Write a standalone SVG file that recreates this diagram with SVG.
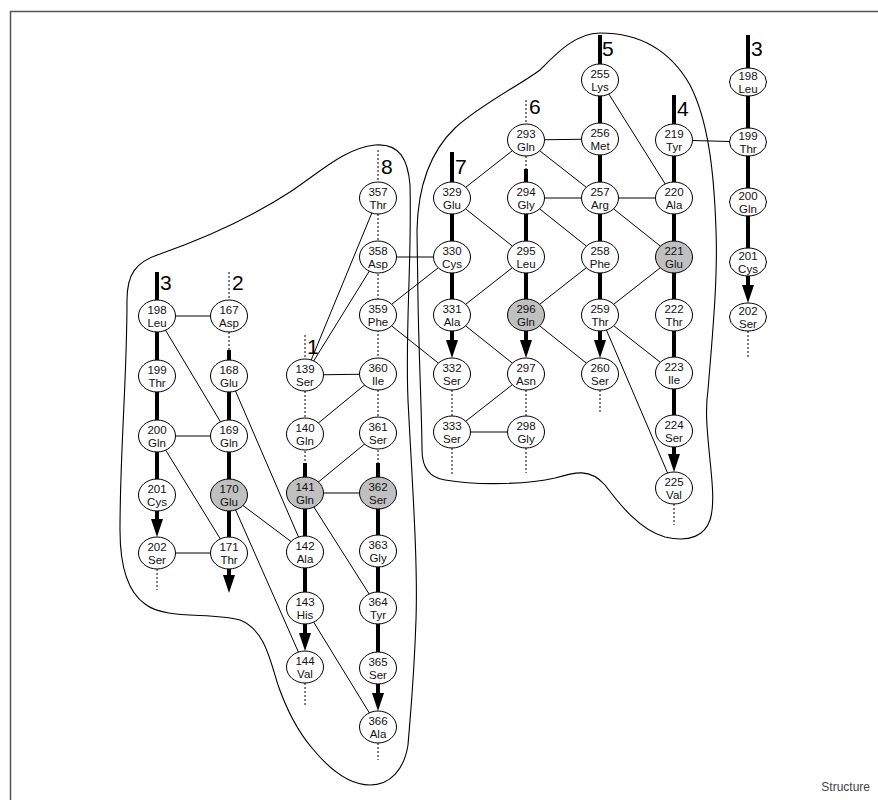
<svg xmlns="http://www.w3.org/2000/svg" width="878" height="800" viewBox="0 0 878 800">
<defs>
<style>
.frame{fill:none;stroke:#555;stroke-width:1.5}
.blob{fill:none;stroke:#000;stroke-width:1.1}
.thin{stroke:#000;stroke-width:1;fill:none}
.thick{stroke:#000;stroke-width:4;fill:none}
.dot{stroke:#000;stroke-width:1;stroke-dasharray:2,2;fill:none}
.arr{stroke:#000;stroke-width:4;fill:none;marker-end:url(#ah)}
.node ellipse{fill:#fff;stroke:#000;stroke-width:1}
.node.g ellipse{fill:#c0c0c0}
.node text{font-family:"Liberation Sans",Arial,sans-serif;font-size:11.5px;text-anchor:middle;fill:#111}
.lab{font-family:"Liberation Sans",Arial,sans-serif;font-size:21px;fill:#000}
.cap{font-family:"Liberation Sans",Arial,sans-serif;font-size:12px;fill:#444;text-anchor:end}
</style>
<marker id="ah" markerUnits="userSpaceOnUse" markerWidth="18" markerHeight="12" viewBox="0 -6 18 12" refX="8" refY="0" orient="auto"><path d="M0,-6 L18,0 L0,6 z" fill="#000"/></marker>
</defs>
<rect width="878" height="800" fill="#fff"/>
<path class="frame" d="M10.5,800 V11.5 H878"/>
<g id="outlines">
<path class="blob" d="M127,300 C127,275 135,262 160,254 C200,240 250,218 290,192 C320,172 345,148 375,145 C400,143 408,160 410,185 C412,260 405,330 408,400 C412,480 418,560 416,620 C414,680 410,720 408,745 C404,770 390,785 370,785 C350,785 330,770 312,748 C295,728 285,705 278,685 C270,660 265,630 240,620 C210,612 165,620 145,604 C125,590 120,560 120,530 C120,450 127,380 127,300 Z"/>
<path class="blob" d="M600,33 C575,33 555,55 540,70 C520,85 480,105 455,128 C430,152 418,185 417,230 L418,300 C419,360 422,420 422,450 C422,470 432,478 445,480 C480,486 530,484 555,478 C575,472 590,468 605,485 C620,505 640,530 665,537 C690,543 705,535 710,520 C715,505 712,480 710,460 C707,430 705,410 708,390 C712,340 718,280 716,230 C714,170 708,120 690,85 C670,50 640,33 600,33 Z"/>
</g>
<g id="connectors">
<!-- column 3 left -->
<line class="thick" x1="157" y1="272" x2="157" y2="300"/>
<line class="thick" x1="157" y1="316" x2="157" y2="495"/>
<line class="arr" x1="157" y1="495" x2="157" y2="527"/>
<line class="dot" x1="157" y1="569" x2="157" y2="590"/>
<!-- column 2 -->
<line class="dot" x1="229" y1="272" x2="229" y2="300"/>
<line class="dot" x1="229" y1="332" x2="229" y2="350"/>
<line class="thick" x1="229" y1="350" x2="229" y2="553"/>
<line class="arr" x1="229" y1="553" x2="229" y2="583"/>
<!-- column 1 -->
<line class="dot" x1="305" y1="335" x2="305" y2="359"/>
<line class="dot" x1="305" y1="391" x2="305" y2="463"/>
<line class="thick" x1="305" y1="463" x2="305" y2="608"/>
<line class="arr" x1="305" y1="608" x2="305" y2="641"/>
<line class="dot" x1="305" y1="683" x2="305" y2="707"/>
<!-- column 8 -->
<line class="dot" x1="378" y1="150" x2="378" y2="182"/>
<line class="dot" x1="378" y1="214" x2="378" y2="463"/>
<line class="thick" x1="378" y1="463" x2="378" y2="668"/>
<line class="arr" x1="378" y1="668" x2="378" y2="701"/>
<line class="dot" x1="378" y1="743" x2="378" y2="760"/>
<!-- column 7 -->
<line class="thick" x1="452" y1="152" x2="452" y2="182"/>
<line class="thick" x1="452" y1="198" x2="452" y2="315"/>
<line class="arr" x1="452" y1="315" x2="452" y2="348"/>
<line class="dot" x1="452" y1="390" x2="452" y2="416"/>
<line class="dot" x1="452" y1="448" x2="452" y2="475"/>
<!-- column 6 -->
<line class="dot" x1="526" y1="100" x2="526" y2="124"/>
<line class="dot" x1="526" y1="156" x2="526" y2="169"/>
<line class="thick" x1="526" y1="169" x2="526" y2="315"/>
<line class="arr" x1="526" y1="315" x2="526" y2="348"/>
<line class="dot" x1="526" y1="390" x2="526" y2="416"/>
<line class="dot" x1="526" y1="448" x2="526" y2="473"/>
<!-- column 5 -->
<line class="thick" x1="600" y1="35" x2="600" y2="64"/>
<line class="thick" x1="600" y1="80" x2="600" y2="315"/>
<line class="arr" x1="600" y1="315" x2="600" y2="348"/>
<line class="dot" x1="600" y1="390" x2="600" y2="413"/>
<!-- column 4 -->
<line class="thick" x1="674" y1="95" x2="674" y2="124"/>
<line class="thick" x1="674" y1="140" x2="674" y2="431"/>
<line class="arr" x1="674" y1="431" x2="674" y2="462"/>
<line class="dot" x1="674" y1="504" x2="674" y2="525"/>
<!-- column 3 right -->
<line class="thick" x1="748" y1="35" x2="748" y2="68"/>
<line class="thick" x1="748" y1="82" x2="748" y2="262"/>
<line class="arr" x1="748" y1="262" x2="748" y2="293"/>
<line class="dot" x1="748" y1="331" x2="748" y2="357"/>
<!-- cross links -->
<line class="thin" x1="157" y1="316" x2="229" y2="316"/>
<line class="thin" x1="157" y1="316" x2="229" y2="436"/>
<line class="thin" x1="157" y1="436" x2="229" y2="436"/>
<line class="thin" x1="157" y1="436" x2="229" y2="553"/>
<line class="thin" x1="157" y1="553" x2="229" y2="553"/>
<line class="thin" x1="229" y1="376" x2="305" y2="552"/>
<line class="thin" x1="229" y1="495" x2="305" y2="552"/>
<line class="thin" x1="229" y1="495" x2="305" y2="667"/>
<line class="thin" x1="305" y1="375" x2="378" y2="198"/>
<line class="thin" x1="305" y1="375" x2="378" y2="257"/>
<line class="thin" x1="305" y1="375" x2="378" y2="374"/>
<line class="thin" x1="305" y1="434" x2="378" y2="374"/>
<line class="thin" x1="305" y1="493" x2="378" y2="433"/>
<line class="thin" x1="305" y1="493" x2="378" y2="493"/>
<line class="thin" x1="305" y1="493" x2="378" y2="608"/>
<line class="thin" x1="305" y1="608" x2="378" y2="727"/>
<line class="thin" x1="378" y1="257" x2="452" y2="257"/>
<line class="thin" x1="378" y1="315" x2="452" y2="257"/>
<line class="thin" x1="378" y1="315" x2="452" y2="374"/>
<line class="thin" x1="452" y1="198" x2="526" y2="140"/>
<line class="thin" x1="452" y1="198" x2="526" y2="257"/>
<line class="thin" x1="452" y1="315" x2="526" y2="257"/>
<line class="thin" x1="452" y1="315" x2="526" y2="374"/>
<line class="thin" x1="452" y1="432" x2="526" y2="374"/>
<line class="thin" x1="452" y1="432" x2="526" y2="432"/>
<line class="thin" x1="526" y1="140" x2="600" y2="139"/>
<line class="thin" x1="526" y1="140" x2="600" y2="198"/>
<line class="thin" x1="526" y1="198" x2="600" y2="198"/>
<line class="thin" x1="526" y1="198" x2="600" y2="257"/>
<line class="thin" x1="526" y1="315" x2="600" y2="257"/>
<line class="thin" x1="526" y1="315" x2="600" y2="374"/>
<line class="thin" x1="600" y1="80" x2="674" y2="198"/>
<line class="thin" x1="600" y1="198" x2="674" y2="198"/>
<line class="thin" x1="600" y1="198" x2="674" y2="257"/>
<line class="thin" x1="600" y1="315" x2="674" y2="257"/>
<line class="thin" x1="600" y1="315" x2="674" y2="373"/>
<line class="thin" x1="600" y1="315" x2="674" y2="488"/>
<line class="thin" x1="674" y1="140" x2="748" y2="142"/>
</g>
<g id="labels">
<text class="lab" x="160" y="290">3</text>
<text class="lab" x="232" y="290">2</text>
<text class="lab" x="307" y="354">1</text>
<text class="lab" x="381" y="174">8</text>
<text class="lab" x="455" y="174">7</text>
<text class="lab" x="529" y="114">6</text>
<text class="lab" x="602" y="56">5</text>
<text class="lab" x="677" y="116">4</text>
<text class="lab" x="751" y="56">3</text>
</g>
<g id="n198a" class="node"><ellipse cx="157" cy="316" rx="18.5" ry="16"/><text x="157" y="314">198</text><text x="157" y="327">Leu</text></g>
<g id="n199a" class="node"><ellipse cx="157" cy="376" rx="18.5" ry="16"/><text x="157" y="374">199</text><text x="157" y="387">Thr</text></g>
<g id="n200a" class="node"><ellipse cx="157" cy="436" rx="18.5" ry="16"/><text x="157" y="434">200</text><text x="157" y="447">Gln</text></g>
<g id="n201a" class="node"><ellipse cx="157" cy="495" rx="18.5" ry="16"/><text x="157" y="493">201</text><text x="157" y="506">Cys</text></g>
<g id="n202a" class="node"><ellipse cx="157" cy="553" rx="18.5" ry="16"/><text x="157" y="551">202</text><text x="157" y="564">Ser</text></g>
<g id="n167" class="node"><ellipse cx="229" cy="316" rx="18.5" ry="16"/><text x="229" y="314">167</text><text x="229" y="327">Asp</text></g>
<g id="n168" class="node"><ellipse cx="229" cy="376" rx="18.5" ry="16"/><text x="229" y="374">168</text><text x="229" y="387">Glu</text></g>
<g id="n169" class="node"><ellipse cx="229" cy="436" rx="18.5" ry="16"/><text x="229" y="434">169</text><text x="229" y="447">Gln</text></g>
<g id="n170" class="node g"><ellipse cx="229" cy="495" rx="18.5" ry="16"/><text x="229" y="493">170</text><text x="229" y="506">Glu</text></g>
<g id="n171" class="node"><ellipse cx="229" cy="553" rx="18.5" ry="16"/><text x="229" y="551">171</text><text x="229" y="564">Thr</text></g>
<g id="n139" class="node"><ellipse cx="305" cy="375" rx="18.5" ry="16"/><text x="305" y="373">139</text><text x="305" y="386">Ser</text></g>
<g id="n140" class="node"><ellipse cx="305" cy="434" rx="18.5" ry="16"/><text x="305" y="432">140</text><text x="305" y="445">Gln</text></g>
<g id="n141" class="node g"><ellipse cx="305" cy="493" rx="18.5" ry="16"/><text x="305" y="491">141</text><text x="305" y="504">Gln</text></g>
<g id="n142" class="node"><ellipse cx="305" cy="552" rx="18.5" ry="16"/><text x="305" y="550">142</text><text x="305" y="563">Ala</text></g>
<g id="n143" class="node"><ellipse cx="305" cy="608" rx="18.5" ry="16"/><text x="305" y="606">143</text><text x="305" y="619">His</text></g>
<g id="n144" class="node"><ellipse cx="305" cy="667" rx="18.5" ry="16"/><text x="305" y="665">144</text><text x="305" y="678">Val</text></g>
<g id="n357" class="node"><ellipse cx="378" cy="198" rx="18.5" ry="16"/><text x="378" y="196">357</text><text x="378" y="209">Thr</text></g>
<g id="n358" class="node"><ellipse cx="378" cy="257" rx="18.5" ry="16"/><text x="378" y="255">358</text><text x="378" y="268">Asp</text></g>
<g id="n359" class="node"><ellipse cx="378" cy="315" rx="18.5" ry="16"/><text x="378" y="313">359</text><text x="378" y="326">Phe</text></g>
<g id="n360" class="node"><ellipse cx="378" cy="374" rx="18.5" ry="16"/><text x="378" y="372">360</text><text x="378" y="385">Ile</text></g>
<g id="n361" class="node"><ellipse cx="378" cy="433" rx="18.5" ry="16"/><text x="378" y="431">361</text><text x="378" y="444">Ser</text></g>
<g id="n362" class="node g"><ellipse cx="378" cy="493" rx="18.5" ry="16"/><text x="378" y="491">362</text><text x="378" y="504">Ser</text></g>
<g id="n363" class="node"><ellipse cx="378" cy="551" rx="18.5" ry="16"/><text x="378" y="549">363</text><text x="378" y="562">Gly</text></g>
<g id="n364" class="node"><ellipse cx="378" cy="608" rx="18.5" ry="16"/><text x="378" y="606">364</text><text x="378" y="619">Tyr</text></g>
<g id="n365" class="node"><ellipse cx="378" cy="668" rx="18.5" ry="16"/><text x="378" y="666">365</text><text x="378" y="679">Ser</text></g>
<g id="n366" class="node"><ellipse cx="378" cy="727" rx="18.5" ry="16"/><text x="378" y="725">366</text><text x="378" y="738">Ala</text></g>
<g id="n329" class="node"><ellipse cx="452" cy="198" rx="18.5" ry="16"/><text x="452" y="196">329</text><text x="452" y="209">Glu</text></g>
<g id="n330" class="node"><ellipse cx="452" cy="257" rx="18.5" ry="16"/><text x="452" y="255">330</text><text x="452" y="268">Cys</text></g>
<g id="n331" class="node"><ellipse cx="452" cy="315" rx="18.5" ry="16"/><text x="452" y="313">331</text><text x="452" y="326">Ala</text></g>
<g id="n332" class="node"><ellipse cx="452" cy="374" rx="18.5" ry="16"/><text x="452" y="372">332</text><text x="452" y="385">Ser</text></g>
<g id="n333" class="node"><ellipse cx="452" cy="432" rx="18.5" ry="16"/><text x="452" y="430">333</text><text x="452" y="443">Ser</text></g>
<g id="n293" class="node"><ellipse cx="526" cy="140" rx="18.5" ry="16"/><text x="526" y="138">293</text><text x="526" y="151">Gln</text></g>
<g id="n294" class="node"><ellipse cx="526" cy="198" rx="18.5" ry="16"/><text x="526" y="196">294</text><text x="526" y="209">Gly</text></g>
<g id="n295" class="node"><ellipse cx="526" cy="257" rx="18.5" ry="16"/><text x="526" y="255">295</text><text x="526" y="268">Leu</text></g>
<g id="n296" class="node g"><ellipse cx="526" cy="315" rx="18.5" ry="16"/><text x="526" y="313">296</text><text x="526" y="326">Gln</text></g>
<g id="n297" class="node"><ellipse cx="526" cy="374" rx="18.5" ry="16"/><text x="526" y="372">297</text><text x="526" y="385">Asn</text></g>
<g id="n298" class="node"><ellipse cx="526" cy="432" rx="18.5" ry="16"/><text x="526" y="430">298</text><text x="526" y="443">Gly</text></g>
<g id="n255" class="node"><ellipse cx="600" cy="80" rx="18.5" ry="16"/><text x="600" y="78">255</text><text x="600" y="91">Lys</text></g>
<g id="n256" class="node"><ellipse cx="600" cy="139" rx="18.5" ry="16"/><text x="600" y="137">256</text><text x="600" y="150">Met</text></g>
<g id="n257" class="node"><ellipse cx="600" cy="198" rx="18.5" ry="16"/><text x="600" y="196">257</text><text x="600" y="209">Arg</text></g>
<g id="n258" class="node"><ellipse cx="600" cy="257" rx="18.5" ry="16"/><text x="600" y="255">258</text><text x="600" y="268">Phe</text></g>
<g id="n259" class="node"><ellipse cx="600" cy="315" rx="18.5" ry="16"/><text x="600" y="313">259</text><text x="600" y="326">Thr</text></g>
<g id="n260" class="node"><ellipse cx="600" cy="374" rx="18.5" ry="16"/><text x="600" y="372">260</text><text x="600" y="385">Ser</text></g>
<g id="n219" class="node"><ellipse cx="674" cy="140" rx="18.5" ry="16"/><text x="674" y="138">219</text><text x="674" y="151">Tyr</text></g>
<g id="n220" class="node"><ellipse cx="674" cy="198" rx="18.5" ry="16"/><text x="674" y="196">220</text><text x="674" y="209">Ala</text></g>
<g id="n221" class="node g"><ellipse cx="674" cy="257" rx="18.5" ry="16"/><text x="674" y="255">221</text><text x="674" y="268">Glu</text></g>
<g id="n222" class="node"><ellipse cx="674" cy="315" rx="18.5" ry="16"/><text x="674" y="313">222</text><text x="674" y="326">Thr</text></g>
<g id="n223" class="node"><ellipse cx="674" cy="373" rx="18.5" ry="16"/><text x="674" y="371">223</text><text x="674" y="384">Ile</text></g>
<g id="n224" class="node"><ellipse cx="674" cy="431" rx="18.5" ry="16"/><text x="674" y="429">224</text><text x="674" y="442">Ser</text></g>
<g id="n225" class="node"><ellipse cx="674" cy="488" rx="18.5" ry="16"/><text x="674" y="486">225</text><text x="674" y="499">Val</text></g>
<g id="n198b" class="node"><ellipse cx="748" cy="82" rx="18.5" ry="14"/><text x="748" y="80">198</text><text x="748" y="93">Leu</text></g>
<g id="n199b" class="node"><ellipse cx="748" cy="142" rx="18.5" ry="14"/><text x="748" y="140">199</text><text x="748" y="153">Thr</text></g>
<g id="n200b" class="node"><ellipse cx="748" cy="202" rx="18.5" ry="14"/><text x="748" y="200">200</text><text x="748" y="213">Gln</text></g>
<g id="n201b" class="node"><ellipse cx="748" cy="262" rx="18.5" ry="14"/><text x="748" y="260">201</text><text x="748" y="273">Cys</text></g>
<g id="n202b" class="node"><ellipse cx="748" cy="317" rx="18.5" ry="14"/><text x="748" y="315">202</text><text x="748" y="328">Ser</text></g>
<text class="cap" x="870" y="791">Structure</text>
</svg>
